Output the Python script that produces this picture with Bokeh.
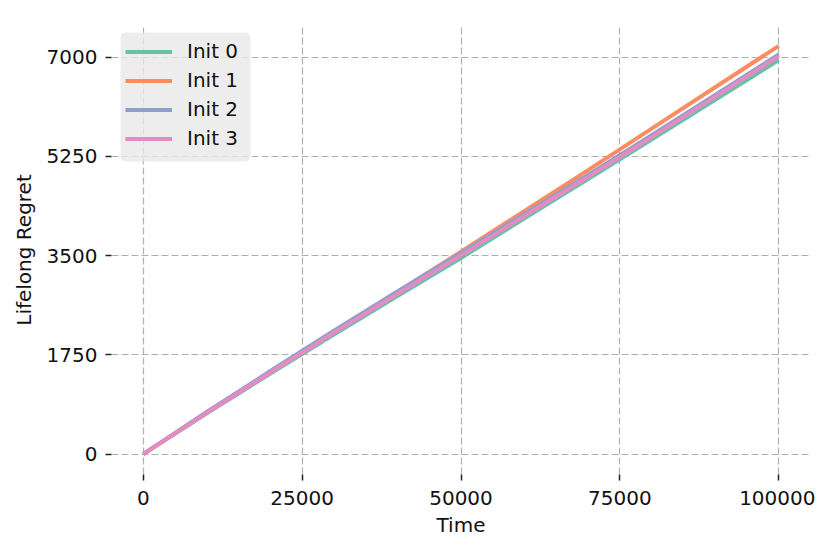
from bokeh.plotting import figure
from bokeh.models import FixedTicker, BasicTickFormatter, Range1d, Legend, LegendItem, BoxAnnotation
from bokeh.embed import file_html
from bokeh.resources import INLINE

time = [0, 10000, 20000, 30000, 40000, 50000, 60000, 70000, 80000, 90000, 100000]
init0 = [0, 720, 1420, 2110, 2790, 3460, 4160, 4850, 5550, 6250, 6950]
init1 = [0, 740, 1450, 2160, 2860, 3570, 4290, 5010, 5740, 6470, 7200]
init2 = [0, 745, 1465, 2175, 2870, 3545, 4235, 4925, 5625, 6335, 7050]
init3 = [0, 730, 1440, 2140, 2825, 3505, 4200, 4890, 5590, 6300, 7020]
series = [("Init 0", init0), ("Init 1", init1), ("Init 2", init2), ("Init 3", init3)]
colors = ["#66c2a5", "#fc8d62", "#8da0cb", "#e78ac3"]
x_ticks = [0, 25000, 50000, 75000, 100000]
y_ticks = [0, 1750, 3500, 5250, 7000]

FONT = "DejaVu Sans"
FS = "20px"
FRAME_H = 449

p = figure(width=815, height=544, output_backend="svg", toolbar_location=None,
           x_range=Range1d(-5000, 105000), y_range=Range1d(-360, 7560),
           min_border_left=111, min_border_right=5, min_border_top=25, min_border_bottom=70)
p.outline_line_color = None
p.background_fill_color = "white"

items = []
for (name, ys), c in zip(series, colors):
    r = p.line(time, ys, line_color=c, line_width=4)
    items.append(LegendItem(label=name, renderers=[r]))

for ax in (p.xaxis[0], p.yaxis[0]):
    ax.axis_line_color = None
    ax.major_tick_out = 6
    ax.major_tick_in = 0
    ax.minor_tick_out = 0
    ax.minor_tick_in = 0
    ax.major_tick_line_color = "#222222"
    ax.major_tick_line_width = 1.5
    ax.major_label_text_font = FONT
    ax.major_label_text_font_size = FS
    ax.major_label_text_color = "#111111"
    ax.axis_label_text_font = FONT
    ax.axis_label_text_font_size = FS
    ax.axis_label_text_font_style = "normal"
    ax.axis_label_text_color = "#111111"
    ax.formatter = BasicTickFormatter(use_scientific=False)

p.xaxis[0].ticker = FixedTicker(ticks=x_ticks)
p.yaxis[0].ticker = FixedTicker(ticks=y_ticks)
p.xaxis[0].axis_label = "Time"
p.yaxis[0].axis_label = "Lifelong Regret"
p.xaxis[0].major_label_standoff = 10
p.yaxis[0].major_label_standoff = 8
p.xaxis[0].axis_label_standoff = 5
p.yaxis[0].axis_label_standoff = 8

for g in (p.xgrid[0], p.ygrid[0]):
    g.grid_line_color = "#b0b0b0"
    g.grid_line_dash = "7 3"
    g.grid_line_width = 1.2

# legend frame (screen px relative to plot frame)
legend_box = BoxAnnotation(left=9, right=139, top=FRAME_H - 7, bottom=FRAME_H - 136,
                           left_units="screen", right_units="screen",
                           top_units="screen", bottom_units="screen",
                           fill_color="#e8e8e8", fill_alpha=0.8, line_color=None,
                           border_radius=5)
p.add_layout(legend_box)

legend = Legend(items=items, location="top_left")
legend.background_fill_alpha = 0
legend.border_line_color = None
legend.label_text_font = FONT
legend.label_text_font_size = FS
legend.label_text_color = "#111111"
legend.glyph_width = 47
legend.glyph_height = 21
legend.label_height = 21
legend.label_standoff = 15
legend.spacing = 5
legend.margin = 14
p.add_layout(legend)

open("out.html", "w").write(file_html(p, INLINE))
